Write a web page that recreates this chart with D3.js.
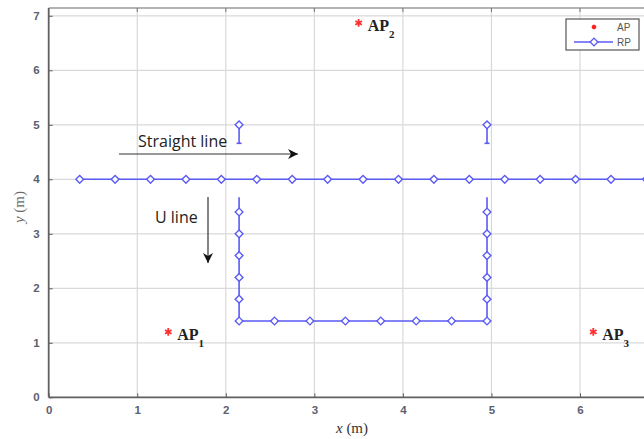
<!DOCTYPE html>
<html>
<head>
<meta charset="utf-8">
<script src="https://cdn.jsdelivr.net/npm/d3@7/dist/d3.min.js"></script>
<style>
  html, body { margin: 0; padding: 0; background: #fff; }
  svg { display: block; }
</style>
</head>
<body>
<svg id="chart" width="644" height="439"></svg>
<script>
// Tick values
const xTicks = [0, 1, 2, 3, 4, 5, 6];
const yTicks = [0, 1, 2, 3, 4, 5, 6, 7];

// Access points (AP)
const apX = [1.35, 3.5, 6.15];
const apY = [1.2, 6.87, 1.2];
const apSub = ["1", "2", "3"];

// Reference points along the straight line (y = 4)
const straightX = [0.35, 0.75, 1.15, 1.55, 1.95, 2.35, 2.75, 3.15, 3.55, 3.95,
                   4.35, 4.75, 5.15, 5.55, 5.95, 6.35, 6.75];
const straightY = [4, 4, 4, 4, 4, 4, 4, 4, 4, 4, 4, 4, 4, 4, 4, 4, 4];

// Reference points along the U line
const uX = [2.15, 2.15, 2.15, 2.15, 2.15, 2.15, 2.55, 2.95, 3.35, 3.75, 4.15, 4.55,
            4.95, 4.95, 4.95, 4.95, 4.95, 4.95];
const uY = [3.4, 3.0, 2.6, 2.2, 1.8, 1.4, 1.4, 1.4, 1.4, 1.4, 1.4, 1.4,
            1.4, 1.8, 2.2, 2.6, 3.0, 3.4];
// Unmarked ends of the U line's two arms
const uArmTop = 3.67;

// Short spurs above the straight line
const spurX = [2.15, 4.95];
const spurTop = 5.0;
const spurBottom = 4.66;

const svg = d3.select("#chart");

const x = d3.scaleLinear().domain([0, 6]).range([48.7, 580]);
const y = d3.scaleLinear().domain([0, 7]).range([397.3, 15.8]);
const xMax = 6.9, yMax = 7.143;

const blue = "#5b5bf5";
const axisGray = "#606060";
const gridGray = "#d9d9d9";
const tickTextColor = "#5c5f6e";

// Grid
const grid = svg.append("g");
grid.selectAll("line.gx").data(xTicks.slice(1)).join("line")
  .attr("x1", d => x(d)).attr("x2", d => x(d))
  .attr("y1", y(0)).attr("y2", y(yMax))
  .attr("stroke", gridGray).attr("stroke-width", 1.2);
grid.selectAll("line.gy").data(yTicks.slice(1)).join("line")
  .attr("y1", d => y(d)).attr("y2", d => y(d))
  .attr("x1", x(0)).attr("x2", x(xMax))
  .attr("stroke", gridGray).attr("stroke-width", 1.2);

// Box: top border
svg.append("line")
  .attr("x1", x(0)).attr("x2", x(xMax))
  .attr("y1", y(yMax)).attr("y2", y(yMax))
  .attr("stroke", "#9a9a9a").attr("stroke-width", 1.6);
// Small inward ticks on the top border
svg.append("g").selectAll("line").data(xTicks.slice(1)).join("line")
  .attr("x1", d => x(d)).attr("x2", d => x(d))
  .attr("y1", y(yMax)).attr("y2", y(yMax) + 4)
  .attr("stroke", "#777").attr("stroke-width", 1);

// Axes
const xAxis = d3.axisBottom(x).tickValues(xTicks).tickSize(-4).tickPadding(9).tickFormat(d3.format("d"));
const yAxis = d3.axisLeft(y).tickValues(yTicks).tickSize(-4).tickPadding(9).tickFormat(d3.format("d"));

const gx = svg.append("g").attr("transform", `translate(0,${y(0)})`).call(xAxis);
const gy = svg.append("g").attr("transform", `translate(${x(0)},0)`).call(yAxis);
gx.select(".domain").attr("d", `M${x(0)},0H${x(xMax)}`);
gy.select(".domain").attr("d", `M0,${y(0)}V${y(yMax)}`);
[gx, gy].forEach(g => {
  g.select(".domain").attr("stroke", axisGray).attr("stroke-width", 1.8);
  g.selectAll(".tick line").attr("stroke", axisGray).attr("stroke-width", 1);
  g.selectAll(".tick text")
    .attr("fill", tickTextColor)
    .attr("font-family", "Arial, 'Liberation Sans', sans-serif")
    .attr("font-size", 11.5).attr("font-weight", "bold");
});

// Axis titles
svg.append("text")
  .attr("x", 352).attr("y", 433)
  .attr("text-anchor", "middle")
  .attr("font-family", "'Liberation Serif', 'Times New Roman', serif")
  .attr("font-size", 15).attr("fill", "#333")
  .html('<tspan font-style="italic">x</tspan> (m)');
svg.append("text")
  .attr("transform", "translate(24,207) rotate(-90)")
  .attr("text-anchor", "middle")
  .attr("font-family", "'Liberation Serif', 'Times New Roman', serif")
  .attr("font-size", 15).attr("fill", "#6a6a6a")
  .html('<tspan font-style="italic">y</tspan> (m)');

// Diamond marker: a square turned 45 degrees
const diamond = d3.symbol(d3.symbolSquare, 30);
function drawMarkers(g, xs, ys) {
  g.selectAll("path.m").data(xs.map((d, i) => [d, ys[i]])).join("path")
    .attr("class", "m")
    .attr("d", diamond)
    .attr("transform", d => `translate(${x(d[0])},${y(d[1])}) rotate(45)`)
    .attr("fill", "#fff").attr("stroke", blue).attr("stroke-width", 1.4);
}

const line = d3.line().x(d => x(d[0])).y(d => y(d[1]));

// Straight line
const gs = svg.append("g");
gs.append("path")
  .attr("d", line(straightX.map((d, i) => [d, straightY[i]])))
  .attr("fill", "none").attr("stroke", blue).attr("stroke-width", 1.6);
drawMarkers(gs, straightX, straightY);

// U line
const gu = svg.append("g");
const uPath = [[uX[0], uArmTop]].concat(uX.map((d, i) => [d, uY[i]]), [[uX[uX.length - 1], uArmTop]]);
gu.append("path")
  .attr("d", line(uPath))
  .attr("fill", "none").attr("stroke", blue).attr("stroke-width", 1.6);
drawMarkers(gu, uX, uY);

// Spurs
const gp = svg.append("g");
spurX.forEach(sx => {
  gp.append("path")
    .attr("d", line([[sx, spurTop], [sx, spurBottom]]))
    .attr("stroke", blue).attr("stroke-width", 1.6).attr("fill", "none");
  gp.append("line")
    .attr("x1", x(sx) - 2.5).attr("x2", x(sx) + 2.5)
    .attr("y1", y(spurBottom)).attr("y2", y(spurBottom))
    .attr("stroke", blue).attr("stroke-width", 1.6);
});
drawMarkers(gp, spurX, spurX.map(() => spurTop));

// Access points
const star = d3.symbol(d3.symbolAsterisk, 40);
const ga = svg.append("g");
apX.forEach((ax, i) => {
  ga.append("path")
    .attr("d", star)
    .attr("transform", `translate(${x(ax)},${y(apY[i])})`)
    .attr("fill", "none").attr("stroke", "#ff3030").attr("stroke-width", 1.8);
  const t = ga.append("text")
    .attr("x", x(ax) + 9).attr("y", y(apY[i]) + 8)
    .attr("font-family", "'Liberation Serif', 'Times New Roman', serif")
    .attr("font-size", 16).attr("font-weight", "bold").attr("fill", "#222");
  t.append("tspan").text("AP");
  t.append("tspan").attr("dy", 7).attr("font-size", 11).text(apSub[i]);
});

// Annotations
const defs = svg.append("defs");
defs.append("marker")
  .attr("id", "arrow").attr("viewBox", "0 0 10 10")
  .attr("refX", 10).attr("refY", 5)
  .attr("markerWidth", 14).attr("markerHeight", 10)
  .attr("markerUnits", "userSpaceOnUse")
  .attr("orient", "auto")
  .append("path").attr("d", "M0,0 L10,5 L0,10 L3,5 Z").attr("fill", "#111");

svg.append("line")
  .attr("x1", 119).attr("y1", 154).attr("x2", 298).attr("y2", 154)
  .attr("stroke", "#333").attr("stroke-width", 1.2).attr("marker-end", "url(#arrow)");
svg.append("text")
  .attr("x", 138).attr("y", 147)
  .attr("font-family", "'Open Sans', 'Noto Sans', sans-serif")
  .attr("font-size", 16).attr("fill", "#222")
  .text("Straight line");

svg.append("line")
  .attr("x1", 208).attr("y1", 197).attr("x2", 208).attr("y2", 263)
  .attr("stroke", "#333").attr("stroke-width", 1.2).attr("marker-end", "url(#arrow)");
svg.append("text")
  .attr("x", 155).attr("y", 223)
  .attr("font-family", "'Open Sans', 'Noto Sans', sans-serif")
  .attr("font-size", 16).attr("fill", "#222")
  .text("U line");

// Legend
const lg = svg.append("g");
lg.append("rect")
  .attr("x", 566).attr("y", 19).attr("width", 73).attr("height", 31)
  .attr("fill", "#fff").attr("stroke", "#555").attr("stroke-width", 1.2);
lg.append("path")
  .attr("d", d3.symbol(d3.symbolAsterisk, 14))
  .attr("transform", "translate(594,27)")
  .attr("fill", "none").attr("stroke", "#ff2020").attr("stroke-width", 2);
lg.append("line")
  .attr("x1", 574).attr("x2", 613).attr("y1", 42).attr("y2", 42)
  .attr("stroke", blue).attr("stroke-width", 1.4);
lg.append("path")
  .attr("d", diamond)
  .attr("transform", "translate(594,42) rotate(45)")
  .attr("fill", "#fff").attr("stroke", blue).attr("stroke-width", 1.4);
lg.selectAll("text").data(["AP", "RP"]).join("text")
  .attr("x", 617).attr("y", (d, i) => 31 + i * 15)
  .attr("font-family", "Arial, 'Liberation Sans', sans-serif")
  .attr("font-size", 10).attr("fill", "#555")
  .text(d => d);
</script>
</body>
</html>
